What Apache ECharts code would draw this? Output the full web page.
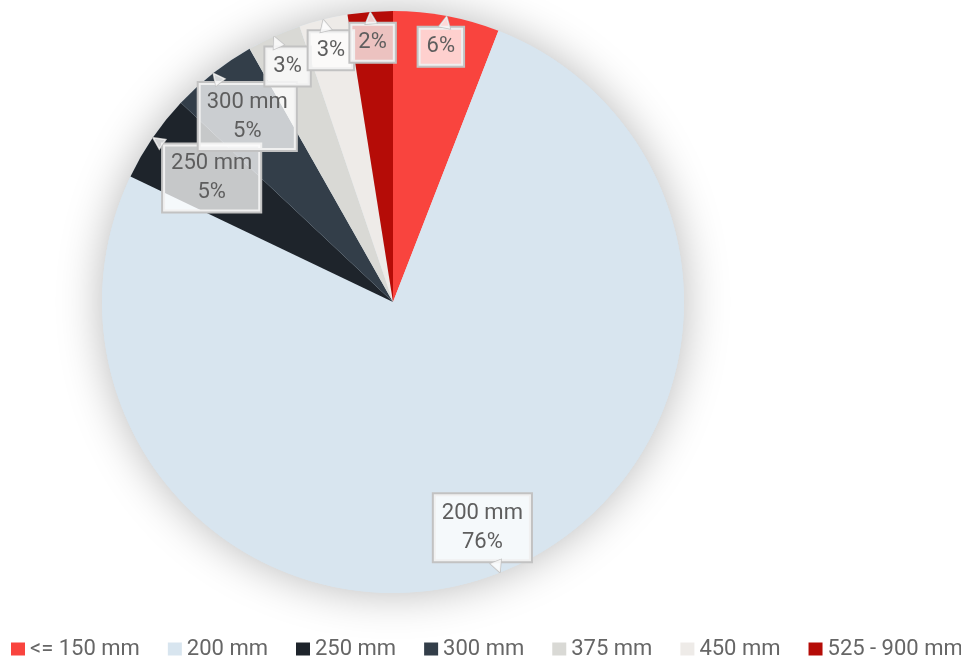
<!DOCTYPE html>
<html>
<head>
<meta charset="utf-8">
<script src="https://cdn.jsdelivr.net/npm/echarts@6/dist/echarts.min.js"></script>
<style>
html,body{margin:0;padding:0;background:#fff;}
#main{width:961px;height:660px;}
</style>
</head>
<body>
<div id="main"></div>
<script>
var categories = ['<= 150 mm', '200 mm', '250 mm', '300 mm', '375 mm', '450 mm', '525 - 900 mm'];
var values = [5.9, 76.2, 4.9, 4.8, 3.0, 2.7, 2.5];
var colors = ['#f9443e', '#d8e5ef', '#1e242b', '#333e49', '#d9d9d5', '#eeebe8', '#b50c07'];
var showName = [false, true, true, true, false, false, false];

var CX = 393, CY = 302, R = 291;
var total = values.reduce(function (a, b) { return a + b; }, 0);
var mids = [];
(function () {
  var acc = 0;
  for (var i = 0; i < values.length; i++) {
    mids.push((acc + values[i] / 2) / total * Math.PI * 2);
    acc += values[i];
  }
})();

var chart = echarts.init(document.getElementById('main'), null, {renderer: 'canvas'});
var data = categories.map(function (c, i) {
  return {name: c, value: values[i], itemStyle: {color: colors[i]}};
});
var ghost = categories.map(function (c, i) {
  return {name: c, value: values[i], itemStyle: {color: 'rgba(0,0,0,0)'}};
});

chart.setOption({
  animation: false,
  backgroundColor: '#ffffff',
  color: colors,
  legend: {
    left: 11,
    bottom: 0,
    width: 960,
    padding: 0,
    itemWidth: 14,
    itemHeight: 13,
    itemGap: 28,
    icon: 'rect',
    data: categories,
    textStyle: {fontFamily: 'Roboto', fontSize: 22, color: '#666666'}
  },
  series: [
    {
      type: 'pie',
      silent: true,
      center: [CX, CY],
      radius: R,
      z: 1,
      label: {show: false},
      labelLine: {show: false},
      data: [{value: 1, name: '', itemStyle: {color: '#d8e5ef', shadowBlur: 45, shadowColor: 'rgba(0,0,0,0.28)'}}],
      legendHoverLink: false
    },
    {
      type: 'pie',
      center: [CX, CY],
      radius: R,
      startAngle: 90,
      clockwise: true,
      z: 2,
      percentPrecision: 0,
      data: data,
      itemStyle: {borderWidth: 0},
      labelLine: {show: false},
      label: {
        show: true,
        position: 'inside',
        rotate: 0,
        fontFamily: 'Roboto',
        fontSize: 22,
        lineHeight: 29,
        color: '#5e5e5e',
        backgroundColor: 'rgba(255,255,255,0.75)',
        borderColor: '#c2c2c2',
        borderWidth: 2,
        padding: [5, 8, 4, 8],
        align: 'center',
        formatter: function (p) {
          return showName[p.dataIndex] ? p.name + '\n' + p.percent + '%' : p.percent + '%';
        }
      },
      labelLayout: function (p) {
        var i = p.dataIndex;
        var a = mids[i];
        var sx = Math.sin(a), cy = Math.cos(a);
        var tipX = CX + R * sx, tipY = CY - R * cy;
        var dx = -sx, dy = cy;
        var hw = p.labelRect.width / 2, hh = p.labelRect.height / 2;
        var tx = Math.abs(dx) > 1e-6 ? hw / Math.abs(dx) : Infinity;
        var ty = Math.abs(dy) > 1e-6 ? hh / Math.abs(dy) : Infinity;
        var t = Math.min(tx, ty) + 10;
        return {
          x: tipX + dx * t,
          y: tipY + dy * t,
          align: 'center',
          verticalAlign: 'middle'
        };
      }
    },
    {
      type: 'pie',
      silent: true,
      legendHoverLink: false,
      center: [CX, CY],
      radius: R,
      startAngle: 90,
      clockwise: true,
      z: 3,
      data: ghost,
      labelLine: {show: false},
      label: {
        show: true,
        position: 'inside',
        formatter: '▲',
        fontFamily: 'DejaVu Sans',
        fontSize: 15,
        lineHeight: 15,
        color: 'rgba(255,255,255,0.8)',
        textBorderColor: '#c2c2c2',
        textBorderWidth: 1.5
      },
      labelLayout: function (p) {
        var i = p.dataIndex;
        var a = mids[i];
        var sx = Math.sin(a), cy = Math.cos(a);
        var tipX = CX + R * sx, tipY = CY - R * cy;
        return {
          x: tipX - sx * 6,
          y: tipY + cy * 6,
          align: 'center',
          verticalAlign: 'middle',
          rotate: -a * 180 / Math.PI
        };
      }
    }
  ]
});
</script>
</body>
</html>
